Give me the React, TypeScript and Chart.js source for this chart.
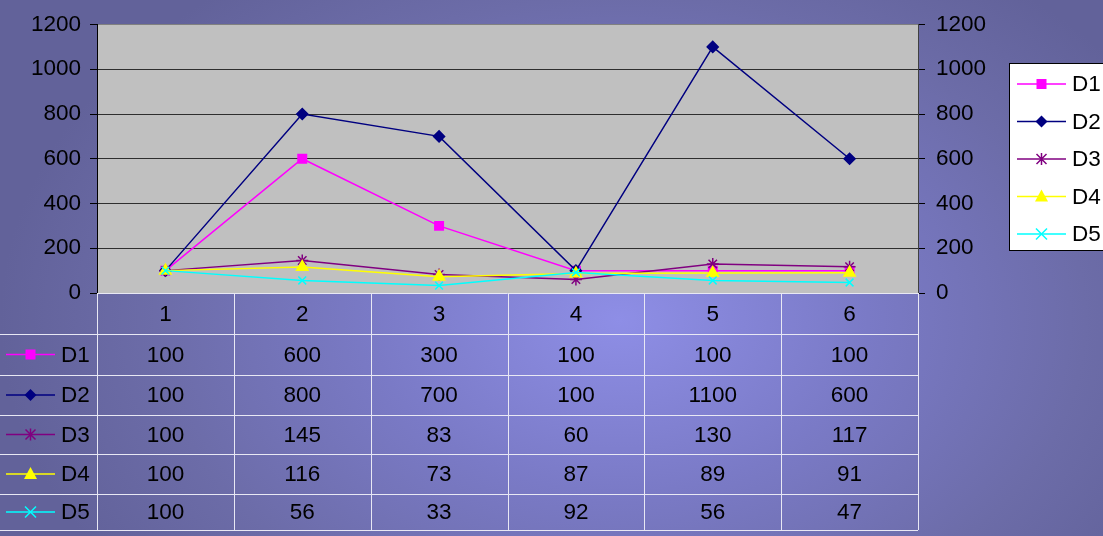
import React, { useEffect, useRef } from "react";
import { Chart, registerables } from "chart.js";

Chart.register(...registerables);

const categories = ["1", "2", "3", "4", "5", "6"];
const seriesNames = ["D1", "D2", "D3", "D4", "D5"];
const d1 = [100, 600, 300, 100, 100, 100];
const d2 = [100, 800, 700, 100, 1100, 600];
const d3 = [100, 145, 83, 60, 130, 117];
const d4 = [100, 116, 73, 87, 89, 91];
const d5 = [100, 56, 33, 92, 56, 47];
const seriesValues = [d1, d2, d3, d4, d5];
const seriesColors = ["#FF00FF", "#000080", "#800080", "#FFFF00", "#00FFFF"];
const seriesMarkers = ["rect", "diamond", "star", "triangle", "x"];
const chartMarkers = ["rect", "rectRot", "star", "triangle", "crossRot"];
const markerRadius = [6, 5.5, 6, 6.5, 5.5];
const yMin = 0;
const yMax = 1200;
const yStep = 200;

const FONT = '"Liberation Sans", Arial, sans-serif';
const FONT_SIZE = 22.5;

function drawMarker(ctx: CanvasRenderingContext2D, style: string, x: number, y: number, color: string) {
  ctx.save();
  ctx.fillStyle = color;
  ctx.strokeStyle = color;
  ctx.lineWidth = 1.5;
  ctx.beginPath();
  switch (style) {
    case "rect":
      ctx.fillRect(x - 5, y - 5, 10, 10);
      break;
    case "diamond":
      ctx.moveTo(x, y - 6);
      ctx.lineTo(x + 6, y);
      ctx.lineTo(x, y + 6);
      ctx.lineTo(x - 6, y);
      ctx.closePath();
      ctx.fill();
      break;
    case "star":
      ctx.moveTo(x, y - 6);
      ctx.lineTo(x, y + 6);
      ctx.moveTo(x - 5, y - 5);
      ctx.lineTo(x + 5, y + 5);
      ctx.moveTo(x - 5, y + 5);
      ctx.lineTo(x + 5, y - 5);
      ctx.stroke();
      break;
    case "triangle":
      ctx.moveTo(x, y - 7);
      ctx.lineTo(x + 6.5, y + 5);
      ctx.lineTo(x - 6.5, y + 5);
      ctx.closePath();
      ctx.fill();
      break;
    case "x":
      ctx.moveTo(x - 5.5, y - 5.5);
      ctx.lineTo(x + 5.5, y + 5.5);
      ctx.moveTo(x - 5.5, y + 5.5);
      ctx.lineTo(x + 5.5, y - 5.5);
      ctx.stroke();
      break;
  }
  ctx.restore();
}

function drawLegendEntry(ctx: CanvasRenderingContext2D, i: number, x0: number, x1: number, y: number, tx: number) {
  ctx.save();
  ctx.strokeStyle = seriesColors[i];
  ctx.lineWidth = 1.5;
  ctx.beginPath();
  ctx.moveTo(x0, y);
  ctx.lineTo(x1, y);
  ctx.stroke();
  ctx.restore();
  drawMarker(ctx, seriesMarkers[i], (x0 + x1) / 2, y, seriesColors[i]);
  ctx.save();
  ctx.fillStyle = "#000";
  ctx.font = `${FONT_SIZE}px ${FONT}`;
  ctx.textAlign = "left";
  ctx.textBaseline = "middle";
  ctx.fillText(seriesNames[i], tx, y + 1);
  ctx.restore();
}

const decorPlugin = {
  id: "decor",
  beforeDraw(chart: any) {
    const { ctx, chartArea } = chart;
    ctx.save();
    ctx.fillStyle = "#C0C0C0";
    ctx.fillRect(chartArea.left, chartArea.top, chartArea.right - chartArea.left, chartArea.bottom - chartArea.top);
    ctx.restore();
  },
  afterDraw(chart: any) {
    const { ctx, chartArea } = chart;
    const xs = chart.scales.x;
    const left = chartArea.left;
    const right = chartArea.right;
    const top = chartArea.bottom;
    const colW = (right - left) / categories.length;
    const rowLines = [top, top + 41, top + 82, top + 122, top + 161, top + 201, top + 237];

    ctx.save();
    ctx.strokeStyle = "#E8E8F4";
    ctx.lineWidth = 1;
    ctx.beginPath();
    ctx.moveTo(left, rowLines[0] + 0.5);
    ctx.lineTo(right, rowLines[0] + 0.5);
    for (let r = 1; r < rowLines.length; r++) {
      ctx.moveTo(0, rowLines[r] + 0.5);
      ctx.lineTo(right, rowLines[r] + 0.5);
    }
    for (let c = 0; c <= categories.length; c++) {
      const x = Math.round(left + c * colW) + 0.5;
      ctx.moveTo(x, rowLines[0]);
      ctx.lineTo(x, rowLines[rowLines.length - 1]);
    }
    ctx.stroke();

    ctx.fillStyle = "#000";
    ctx.font = `${FONT_SIZE}px ${FONT}`;
    ctx.textAlign = "center";
    ctx.textBaseline = "middle";
    categories.forEach((c, i) => {
      const x = xs.getPixelForValue(i);
      ctx.fillText(c, x, (rowLines[0] + rowLines[1]) / 2 + 1);
    });
    seriesValues.forEach((vals, s) => {
      const yc = (rowLines[s + 1] + rowLines[s + 2]) / 2 + 1;
      vals.forEach((v, i) => {
        ctx.fillText(String(v), xs.getPixelForValue(i), yc);
      });
    });
    ctx.restore();

    seriesValues.forEach((_, s) => {
      const yc = (rowLines[s + 1] + rowLines[s + 2]) / 2;
      drawLegendEntry(ctx, s, 6, 55, yc, 61);
    });

    const lx = 1009;
    const ly = 63;
    ctx.save();
    ctx.fillStyle = "#FFFFFF";
    ctx.fillRect(lx, ly, 120, 187);
    ctx.strokeStyle = "#000";
    ctx.lineWidth = 1;
    ctx.strokeRect(lx + 0.5, ly + 0.5, 120, 187);
    ctx.restore();
    seriesNames.forEach((_, s) => {
      drawLegendEntry(ctx, s, 1017, 1066, 84 + s * 37.5, 1072);
    });
  },
};

export default function App() {
  const ref = useRef<HTMLCanvasElement>(null);
  useEffect(() => {
    document.body.style.margin = "0";
    const canvas = ref.current!;
    const datasets = seriesValues.map((vals, i) => ({
      label: seriesNames[i],
      data: vals,
      borderColor: seriesColors[i],
      backgroundColor: seriesColors[i],
      pointBackgroundColor: seriesColors[i],
      pointBorderColor: seriesColors[i],
      pointStyle: chartMarkers[i],
      pointRadius: markerRadius[i],
      pointBorderWidth: 1.5,
      borderWidth: 1.5,
      fill: false,
      tension: 0,
      order: seriesValues.length - i,
    }));
    const tickCb = (v: any) => String(v);
    const chart = new Chart(canvas, {
      type: "line",
      data: { labels: categories, datasets },
      options: {
        responsive: false,
        animation: false,
        events: [],
        layout: { padding: { top: 22, bottom: 243, left: 0, right: 0 } },
        plugins: { legend: { display: false }, tooltip: { enabled: false } },
        scales: {
          x: { type: "category", offset: true, display: false },
          y: {
            position: "left",
            min: yMin,
            max: yMax,
            ticks: {
              stepSize: yStep,
              color: "#000",
              font: { family: FONT, size: FONT_SIZE },
              padding: 9,
              callback: tickCb,
            },
            grid: {
              color: (c: any) => {
                const v = c.tick ? c.tick.value : 0;
                if (v === yMax) return "#808080";
                if (v === yMin) return "rgba(0,0,0,0)";
                return "#2E2E2E";
              },
              tickColor: "#000",
              tickLength: 7,
              lineWidth: 1,
            },
            border: { display: true, color: "#000", width: 1 },
            afterFit: (s: any) => {
              s.width = 97;
            },
          },
          y2: {
            position: "right",
            min: yMin,
            max: yMax,
            ticks: {
              stepSize: yStep,
              color: "#000",
              font: { family: FONT, size: FONT_SIZE },
              padding: 11,
              callback: tickCb,
            },
            grid: { drawOnChartArea: false, tickColor: "#000", tickLength: 7 },
            border: { display: true, color: "#404040", width: 1 },
            afterFit: (s: any) => {
              s.width = 185;
            },
          },
        },
      } as any,
      plugins: [decorPlugin],
    });
    return () => chart.destroy();
  }, []);
  return (
    <div
      style={{
        position: "fixed",
        left: 0,
        top: 0,
        width: 1103,
        height: 536,
        background:
          "radial-gradient(ellipse 620px 430px at 620px 320px, #8E8EE6 0%, #7A7AC6 40%, #6C6CA8 75%, #62629A 100%)",
      }}
    >
      <canvas ref={ref} width={1103} height={536} style={{ display: "block" }} />
    </div>
  );
}
